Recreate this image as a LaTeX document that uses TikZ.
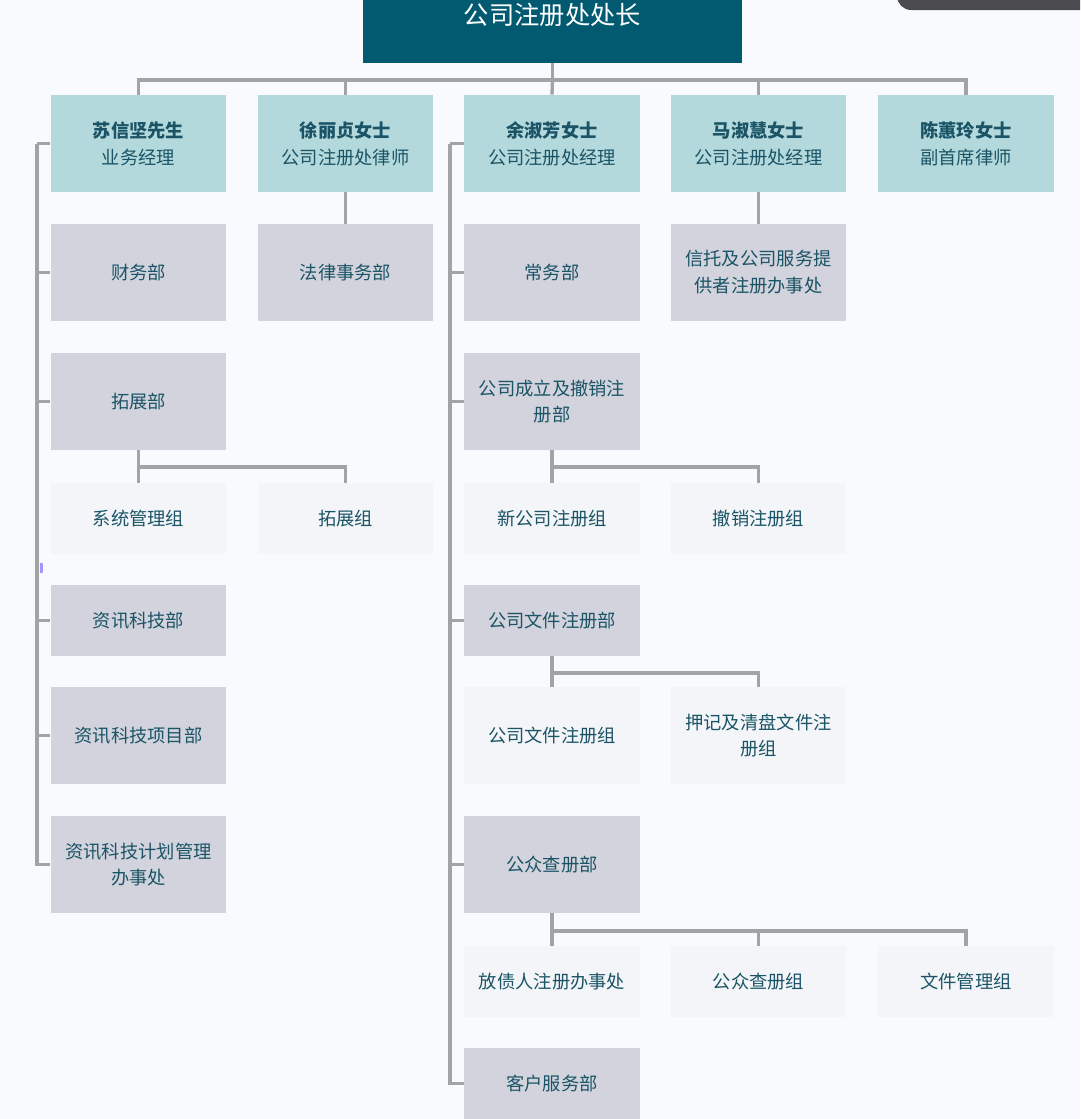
\documentclass[tikz,border=0pt]{standalone}
\usepackage{fontspec}
\setmainfont{Noto Sans CJK SC}
\usepackage{xcolor}
\usepackage{tikz}

\definecolor{bgcol}{HTML}{F8FAFD}
\definecolor{chiefcol}{HTML}{025A71}
\definecolor{headcol}{HTML}{B4D9DC}
\definecolor{deptcol}{HTML}{D2D3DC}
\definecolor{groupcol}{HTML}{F3F5F8}
\definecolor{textcol}{HTML}{1A5466}
\definecolor{linkcol}{HTML}{A2A3A7}
\definecolor{cornercol}{HTML}{4B4B4F}

\tikzset{
  head/.style={fill=headcol, text=textcol, minimum width=3.52cm, minimum height=1.94cm,
    align=center, inner sep=0pt, font=\fontsize{10.4}{15.3}\selectfont},
  dept/.style={head, fill=deptcol},
  group/.style={head, fill=groupcol},
  short/.style={minimum height=1.42cm},
  link/.style={draw=linkcol, line width=1.9pt},
}

\begin{document}
\begin{tikzpicture}[x=0.02cm, y=-0.02cm]
            % Define the page
            \useasboundingbox (0,0) rectangle (1080,1119);
            \clip (0,0) rectangle (1080,1119);
            \fill[bgcol] (0,0) rectangle (1080,1119);
            \fill[cornercol, rounded corners=8] (897,-30) rectangle (1110,10);
            \fill[blue!40] (40,563) rectangle (43,573);

            % Define the chief and the managers
            \node[fill=chiefcol, text=white, minimum width=7.58cm, minimum height=1.92cm, inner sep=0pt,
              font=\fontsize{14.4}{17}\selectfont] (chief) at (552.5,15) {公司注册处处长};
            \node[head] (m1) at (138.5,143.5) {\textbf{苏信坚先生}\\业务经理};
            \node[head] (m2) at (345.5,143.5) {\textbf{徐丽贞女士}\\公司注册处律师};
            \node[head] (m3) at (552,143.5) {\textbf{余淑芳女士}\\公司注册处经理};
            \node[head] (m4) at (758.5,143.5) {\textbf{马淑慧女士}\\公司注册处经理};
            \node[head] (m5) at (966,143.5) {\textbf{陈蕙玲女士}\\副首席律师};

            % Define the first column
            \node[dept] (fin) at (138.5,272.5) {财务部};
            \node[dept] (dev) at (138.5,401.5) {拓展部};
            \node[group, short] (sysadm) at (138.5,518.5) {系统管理组};
            \node[group, short] (devgrp) at (345.5,518.5) {拓展组};
            \node[dept, short] (it) at (138.5,620.5) {资讯科技部};
            \node[dept] (itproj) at (138.5,735.5) {资讯科技项目部};
            \node[dept] (itplan) at (138.5,864.5) {资讯科技计划管理\\办事处};

            % Define the second and fourth columns
            \node[dept] (legal) at (345.5,272.5) {法律事务部};
            \node[dept] (tcsp) at (758.5,272.5) {信托及公司服务提\\供者注册办事处};

            % Define the third column
            \node[dept] (gen) at (552,272.5) {常务部};
            \node[dept] (incorp) at (552,401.5) {公司成立及撤销注\\册部};
            \node[group, short] (newco) at (552,518.5) {新公司注册组};
            \node[group, short] (dereg) at (758.5,518.5) {撤销注册组};
            \node[dept, short] (docdept) at (552,620.5) {公司文件注册部};
            \node[group] (docgrp) at (552,735.5) {公司文件注册组};
            \node[group] (charge) at (758.5,735.5) {押记及清盘文件注\\册组};
            \node[dept] (search) at (552,864.5) {公众查册部};
            \node[group, short] (mlr) at (552,981.5) {放债人注册办事处};
            \node[group, short] (srchgrp) at (758.5,981.5) {公众查册组};
            \node[group, short] (files) at (966,981.5) {文件管理组};
            \node[dept, short] (custsvc) at (552,1083.5) {客户服务部};

            % Add the top connectors
            \coordinate (topbus) at (552.5,80);
            \draw[link] (chief.south) -- (topbus);
            \draw[link] (topbus) -| (m1.north);
            \draw[link] (topbus) -| (m2.north);
            \draw[link] (topbus) -- (m3.north);
            \draw[link] (topbus) -| (m4.north);
            \draw[link] (topbus) -| (m5.north);
            \draw[link] (m2.south) -- (legal.north);
            \draw[link] (m4.south) -- (tcsp.north);

            % Add the first spine
            \coordinate (spineA) at (37,143.5);
            \draw[link] (m1.west) -- (spineA);
            \draw[link] (spineA) |- (fin.west);
            \draw[link] (spineA) |- (dev.west);
            \draw[link] (spineA) |- (it.west);
            \draw[link] (spineA) |- (itproj.west);
            \draw[link] (spineA) |- (itplan.west);
            \coordinate (devbus) at (138.5,467);
            \draw[link] (dev.south) -- (devbus) -| (devgrp.north);
            \draw[link] (devbus) -- (sysadm.north);

            % Add the third spine
            \coordinate (spineC) at (450,143.5);
            \draw[link] (m3.west) -- (spineC);
            \draw[link] (spineC) |- (gen.west);
            \draw[link] (spineC) |- (incorp.west);
            \draw[link] (spineC) |- (docdept.west);
            \draw[link] (spineC) |- (search.west);
            \draw[link] (spineC) |- (custsvc.west);
            \coordinate (incbus) at (552,467);
            \draw[link] (incorp.south) -- (incbus) -| (dereg.north);
            \draw[link] (incbus) -- (newco.north);
            \coordinate (docbus) at (552,673);
            \draw[link] (docdept.south) -- (docbus) -| (charge.north);
            \draw[link] (docbus) -- (docgrp.north);
            \coordinate (srchbus) at (552,931);
            \draw[link] (search.south) -- (srchbus) -| (files.north);
            \draw[link] (srchbus) -| (srchgrp.north);
            \draw[link] (srchbus) -- (mlr.north);
        \end{tikzpicture}
\end{document}
